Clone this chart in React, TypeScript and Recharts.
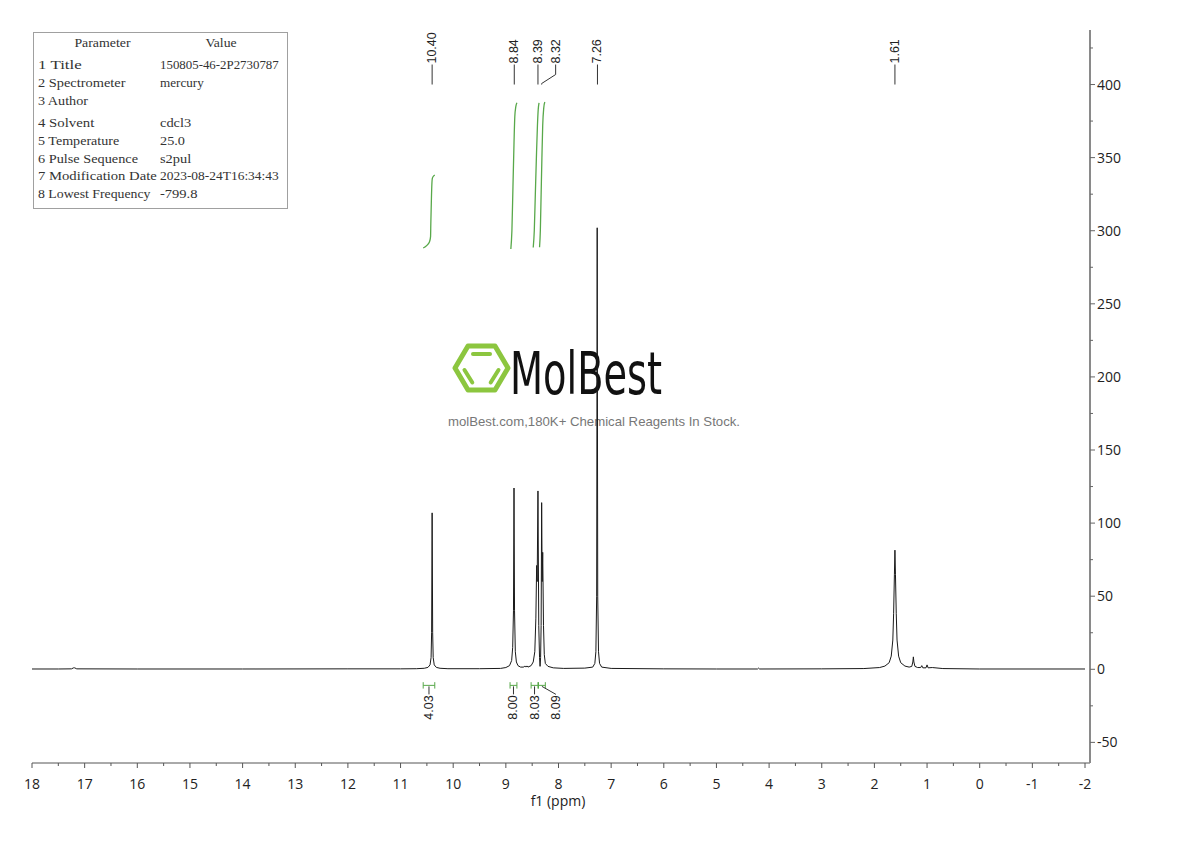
import React from 'react';
import { ComposedChart, Line, XAxis, YAxis, Scatter, ReferenceLine } from 'recharts';

// ---- data (ppm, intensity) ----
const SPECTRUM: [number, number][] = [
  [18.0, 0.2], [17.5, 0.2], [17.25, 0.3], [17.21, 1.0], [17.19, 1.0], [17.15, 0.3],
  [16.0, 0.2], [14.0, 0.2], [12.0, 0.3], [11.0, 0.3], [10.7, 0.4], [10.55, 0.7],
  [10.48, 1.3], [10.44, 3], [10.42, 8], [10.41, 25], [10.4, 107], [10.39, 25],
  [10.38, 8], [10.36, 3], [10.32, 1.3], [10.25, 0.7], [10.1, 0.4], [9.5, 0.4],
  [9.1, 0.6], [9.0, 1.2], [8.93, 2.5], [8.89, 6], [8.87, 15], [8.855, 40],
  [8.845, 124], [8.835, 40], [8.82, 12], [8.8, 5], [8.77, 2.5], [8.72, 1.5],
  [8.66, 1.5], [8.64, 2.3], [8.62, 1.5], [8.6, 2.3], [8.58, 1.5], [8.52, 2.5],
  [8.48, 5], [8.45, 12], [8.43, 35], [8.415, 71], [8.405, 60], [8.39, 122],
  [8.375, 30], [8.36, 8], [8.35, 2], [8.34, 8], [8.33, 30], [8.32, 114],
  [8.31, 60], [8.3, 80], [8.285, 30], [8.27, 10], [8.25, 4], [8.2, 2],
  [8.1, 1], [7.9, 0.6], [7.5, 0.8], [7.35, 1.5], [7.31, 4], [7.29, 12],
  [7.275, 50], [7.265, 302], [7.255, 50], [7.24, 12], [7.22, 4], [7.18, 1.5],
  [7.0, 0.6], [6.0, 0.3], [5.0, 0.2], [4.22, 0.2], [4.2, 0.8], [4.18, 0.2],
  [3.0, 0.3], [2.2, 0.5], [1.9, 1.2], [1.8, 2.2], [1.72, 4.5], [1.68, 9],
  [1.65, 20], [1.635, 38], [1.62, 65], [1.61, 81.5], [1.6, 65], [1.585, 38],
  [1.57, 20], [1.54, 9], [1.5, 4.5], [1.42, 2.2], [1.34, 1.5], [1.29, 2],
  [1.27, 5], [1.26, 8.5], [1.25, 5], [1.23, 2], [1.18, 1.2], [1.12, 1.2],
  [1.1, 2.5], [1.08, 1.0], [1.02, 1.0], [1.0, 3], [0.98, 1.0], [0.9, 1.2],
  [0.7, 0.5], [0.0, 0.2], [-2.0, 0.2],
];

const INTEGRAL_1: [number, number][] = [
  [10.57, 288.2], [10.5, 290], [10.45, 292.5], [10.43, 296], [10.425, 305],
  [10.415, 320], [10.405, 332], [10.395, 336], [10.37, 337.5], [10.35, 338],
];
const INTEGRAL_2: [number, number][] = [
  [8.905, 287.5], [8.885, 300], [8.865, 330], [8.845, 360], [8.83, 378], [8.81, 385], [8.79, 387.5],
];
const INTEGRAL_3: [number, number][] = [
  [8.48, 288.5], [8.46, 300], [8.44, 325], [8.42, 350], [8.4, 372], [8.385, 383], [8.37, 387.5],
];
const INTEGRAL_4: [number, number][] = [
  [8.36, 288.7], [8.345, 300], [8.33, 325], [8.315, 350], [8.3, 372], [8.28, 384], [8.26, 388],
];

const PEAK_LABELS = [10.4, 8.84, 8.39, 8.32, 7.26, 1.61];
const INTEGRAL_RANGES: [number, number][] = [[10.57, 10.35], [8.92, 8.79], [8.52, 8.39], [8.38, 8.25]];
const INTEGRAL_VALUES = ['4.03', '8.00', '8.03', '8.09'];

const X_TICKS: number[] = [];
for (let v = -2; v <= 18; v += 0.5) X_TICKS.push(v);
const Y_TICKS: number[] = [];
for (let v = -50; v <= 425; v += 25) Y_TICKS.push(v);

const PARAM_NAMES = ['1 Title', '2 Spectrometer', '3 Author', '4 Solvent', '5 Temperature', '6 Pulse Sequence', '7 Modification Date', '8 Lowest Frequency'];
const PARAM_VALUES = ['150805-46-2P2730787', 'mercury', '', 'cdcl3', '25.0', 's2pul', '2023-08-24T16:34:43', '-799.8'];

// ---- style constants ----
const GREEN = '#58a84a';
const LABEL_LEVEL = 400;
const BRACKET_LEVEL = -11;
const PEAK_LABEL_SHIFT: Record<string, number> = { '8.32': 14 };
const INTEGRAL_LABEL_SHIFT: Record<string, number> = { '8.09': 14 };
const ROW_Y = [65, 83, 101, 123, 141, 159, 176, 194];

const toPts = (arr: [number, number][]) => arr.map(([x, y]) => ({ x, y }));

const XTick = (props: any) => {
  const { x, y, payload } = props;
  const v = payload.value;
  const major = Math.abs(v - Math.round(v)) < 1e-6;
  return (
    <g>
      <line x1={x} x2={x} y1={y} y2={y + (major ? 5 : 3)} stroke="#555" strokeWidth={1} />
      {major && (
        <text x={x} y={y + 26} textAnchor="middle" fontSize={14} fill="#222" fontFamily="'Open Sans', 'Noto Sans', sans-serif">
          {String(Math.round(v))}
        </text>
      )}
    </g>
  );
};

const YTick = (props: any) => {
  const { x, y, payload } = props;
  const v = payload.value;
  const major = v % 50 === 0;
  return (
    <g>
      <line x1={x} x2={x + (major ? 5 : 3)} y1={y} y2={y} stroke="#666" strokeWidth={1} />
      {major && (
        <text x={x + 7} y={y + 5} textAnchor="start" fontSize={14} fill="#222" fontFamily="'Open Sans', 'Noto Sans', sans-serif">
          {String(v)}
        </text>
      )}
    </g>
  );
};

const PeakLabel = (props: any) => {
  const { cx, cy, payload } = props;
  if (cx == null || cy == null) return <g />;
  const shift = PEAK_LABEL_SHIFT[payload.text] || 0;
  const tx = cx + shift;
  const path = shift
    ? `M${cx},${cy} L${cx},${cy - 1} L${tx},${cy - 10} L${tx},${cy - 20}`
    : `M${cx},${cy} L${cx},${cy - 20}`;
  return (
    <g>
      <path d={path} stroke="#333" strokeWidth={1} fill="none" />
      <text
        x={tx}
        y={cy - 21}
        transform={`rotate(-90 ${tx} ${cy - 21})`}
        textAnchor="start"
        dominantBaseline="central"
        fontSize={12.5}
        fill="#222"
        fontFamily="'Liberation Sans', Arial, sans-serif"
      >
        {payload.text}
      </text>
    </g>
  );
};

const IntegralLabel = (props: any) => {
  const { cx, cy, payload } = props;
  if (cx == null || cy == null) return <g />;
  const shift = INTEGRAL_LABEL_SHIFT[payload.text] || 0;
  const tx = cx + shift;
  const path = `M${cx},${cy + 1} L${tx},${cy + 9}`;
  return (
    <g>
      <path d={path} stroke="#333" strokeWidth={1} fill="none" />
      <text
        x={tx}
        y={cy + 10}
        transform={`rotate(-90 ${tx} ${cy + 10})`}
        textAnchor="end"
        dominantBaseline="central"
        fontSize={12.5}
        fill="#222"
        fontFamily="'Liberation Sans', Arial, sans-serif"
      >
        {payload.text}
      </text>
    </g>
  );
};

const Logo = () => (
  <svg width={1190} height={841} style={{ position: 'absolute', left: 0, top: 0 }}>
    <polygon
      points="455,368 468,346 495,346 508,368 495,390 468,390"
      fill="none"
      stroke="#8cc63f"
      strokeWidth={5}
      strokeLinejoin="round"
    />
    <line x1={473} y1={354} x2={490} y2={354} stroke="#8cc63f" strokeWidth={4} strokeLinecap="round" />
    <line x1={464.5} y1={370} x2={472.3} y2={382.5} stroke="#8cc63f" strokeWidth={4} strokeLinecap="round" />
    <line x1={498.5} y1={370} x2={490.7} y2={382.5} stroke="#8cc63f" strokeWidth={4} strokeLinecap="round" />
    <text
      x={510}
      y={394}
      fontSize={58}
      textLength={152}
      lengthAdjust="spacingAndGlyphs"
      fill="#111"
      fontFamily="'Liberation Sans Narrow', 'DejaVu Sans Condensed', 'DejaVu Sans', sans-serif"
    >
      MolBest
    </text>
    <text
      x={448}
      y={426}
      fontSize={13}
      textLength={292}
      lengthAdjust="spacingAndGlyphs"
      fill="#777"
      fontFamily="'Liberation Sans', Arial, sans-serif"
    >
      molBest.com,180K+ Chemical Reagents In Stock.
    </text>
  </svg>
);

const ParamTable = () => {
  const CH = 6.25;
  const font = "'Liberation Serif', 'DejaVu Serif', serif";
  return (
    <svg width={300} height={220} style={{ position: 'absolute', left: 0, top: 0 }}>
      <rect x={33.5} y={32.5} width={254} height={176} fill="#fff" stroke="#a0a0a0" strokeWidth={1} />
      <text x={102.5} y={47} textAnchor="middle" fontSize={12.5} fill="#333" fontFamily={font} textLength={9 * CH} lengthAdjust="spacingAndGlyphs">
        Parameter
      </text>
      <text x={221} y={47} textAnchor="middle" fontSize={12.5} fill="#333" fontFamily={font} textLength={5 * CH} lengthAdjust="spacingAndGlyphs">
        Value
      </text>
      {PARAM_NAMES.map((n, i) => (
        <text key={'n' + i} x={38} y={ROW_Y[i] + 4} fontSize={12.5} fill="#333" fontFamily={font} textLength={n.length * CH} lengthAdjust="spacingAndGlyphs">
          {n}
        </text>
      ))}
      {PARAM_VALUES.map((v, i) =>
        v ? (
          <text key={'v' + i} x={160} y={ROW_Y[i] + 4} fontSize={12.5} fill="#333" fontFamily={font} textLength={v.length * CH} lengthAdjust="spacingAndGlyphs">
            {v}
          </text>
        ) : null
      )}
    </svg>
  );
};

export default function App() {
  const peakLabelData = PEAK_LABELS.map((p) => ({ x: p, y: LABEL_LEVEL, text: p.toFixed(2) }));
  const integralLabelData = INTEGRAL_RANGES.map((r, i) => ({ x: (r[0] + r[1]) / 2, y: BRACKET_LEVEL, text: INTEGRAL_VALUES[i] }));
  const integrals = [INTEGRAL_1, INTEGRAL_2, INTEGRAL_3, INTEGRAL_4];

  return (
    <div style={{ position: 'absolute', left: 0, top: 0, width: 1190, height: 841, background: '#fff', overflow: 'hidden' }}>
      <Logo />
      <div style={{ position: 'absolute', left: 0, top: 0 }}>
        <ComposedChart width={1190} height={841} margin={{ top: 30, left: 32, right: 40, bottom: 33 }}>
          <XAxis
            xAxisId={0}
            type="number"
            dataKey="x"
            domain={[-2, 18]}
            reversed
            allowDataOverflow
            ticks={X_TICKS}
            interval={0}
            padding={{ left: 0, right: 5 }}
            height={45}
            tickSize={0}
            tickMargin={0}
            tickLine={false}
            axisLine={{ stroke: '#555', strokeWidth: 1 }}
            tick={<XTick />}
            label={(p: any) => {
              const vb = p.viewBox || {};
              return (
                <text x={558} y={(vb.y || 763) + 43} textAnchor="middle" fontSize={14} fill="#222" fontFamily="'Open Sans', 'Noto Sans', sans-serif">
                  f1 (ppm)
                </text>
              );
            }}
          />
          <YAxis
            yAxisId={0}
            type="number"
            orientation="right"
            domain={[-64.1, 437.3]}
            allowDataOverflow
            ticks={Y_TICKS}
            interval={0}
            width={60}
            tickSize={0}
            tickMargin={0}
            tickLine={false}
            axisLine={{ stroke: '#8a8a8a', strokeWidth: 2 }}
            tick={<YTick />}
          />
          {integrals.map((d, i) => (
            <Line
              key={'int' + i}
              data={toPts(d)}
              dataKey="y"
              type="monotone"
              stroke={GREEN}
              strokeWidth={1.3}
              dot={false}
              activeDot={false}
              isAnimationActive={false}
            />
          ))}
          {INTEGRAL_RANGES.map((r, i) => (
            <ReferenceLine key={'bh' + i} segment={[{ x: r[0], y: BRACKET_LEVEL }, { x: r[1], y: BRACKET_LEVEL }]} stroke={GREEN} strokeWidth={1} />
          ))}
          {INTEGRAL_RANGES.map((r, i) => (
            <ReferenceLine key={'bl' + i} segment={[{ x: r[0], y: BRACKET_LEVEL + 2.2 }, { x: r[0], y: BRACKET_LEVEL - 2.2 }]} stroke={GREEN} strokeWidth={1} />
          ))}
          {INTEGRAL_RANGES.map((r, i) => (
            <ReferenceLine key={'br' + i} segment={[{ x: r[1], y: BRACKET_LEVEL + 2.2 }, { x: r[1], y: BRACKET_LEVEL - 2.2 }]} stroke={GREEN} strokeWidth={1} />
          ))}
          <Line
            data={toPts(SPECTRUM)}
            dataKey="y"
            type="linear"
            stroke="#1a1a1a"
            strokeWidth={1}
            dot={false}
            activeDot={false}
            isAnimationActive={false}
          />
          <Scatter data={peakLabelData} dataKey="y" shape={<PeakLabel />} isAnimationActive={false} />
          <Scatter data={integralLabelData} dataKey="y" shape={<IntegralLabel />} isAnimationActive={false} />
        </ComposedChart>
      </div>
      <ParamTable />
    </div>
  );
}
